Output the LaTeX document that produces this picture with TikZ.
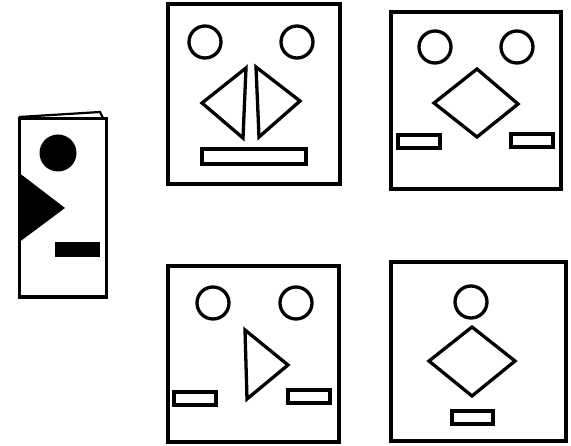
\documentclass[tikz,border=0pt]{standalone}
\begin{document}
\begin{tikzpicture}[x=1pt,y=-1pt,
  frame/.style={draw=black,line width=3.8pt},
  part/.style={draw=black,line width=3.3pt,line join=miter},
  solid part/.style={fill=black,draw=none}]
\useasboundingbox (0,0) rectangle (571,446);
% folded card
\draw[line width=3pt] (19.5,119) rectangle (106.5,297.5);
\draw[line width=4pt] (19.5,297.5) -- (106.5,297.5);
\draw[line width=2.2pt,line join=miter] (19,117) -- (100,112) -- (103,118);
\fill[solid part] (58,153) circle (18.5);
\fill[solid part] (18,172) -- (65,208) -- (18,243) -- cycle;
\fill[solid part] (55,242) rectangle (100,257);
% face 1 (top middle)
\draw[frame] (168,4) rectangle (340,184);
\draw[part] (205,42) circle (16);
\draw[part] (297,42) circle (16);
\draw[part] (202,103) -- (246,68) -- (243,138) -- cycle;
\draw[part] (256,67) -- (300,101) -- (259,137) -- cycle;
\draw[part] (202,149) rectangle (306,164);
% face 2 (top right)
\draw[frame] (391,12) rectangle (561,189);
\draw[part] (435,47) circle (16);
\draw[part] (517,47) circle (16);
\draw[part] (477,69) -- (518,104) -- (477,137) -- (434,103) -- cycle;
\draw[part] (398,135) rectangle (440,148);
\draw[part] (511,134) rectangle (553,147);
% face 3 (bottom middle)
\draw[frame] (168,266) rectangle (339,442);
\draw[part] (213,303) circle (16);
\draw[part] (296,303) circle (16);
\draw[part] (245,330) -- (288,365) -- (247,399) -- cycle;
\draw[part] (174,392) rectangle (216,405);
\draw[part] (288,390) rectangle (330,403);
% face 4 (bottom right)
\draw[frame] (391,262) rectangle (566,441);
\draw[part] (471,302) circle (16);
\draw[part] (472,327) -- (515,361) -- (472,396) -- (429,361) -- cycle;
\draw[part] (452,411) rectangle (493,424);
\end{tikzpicture}
\end{document}
